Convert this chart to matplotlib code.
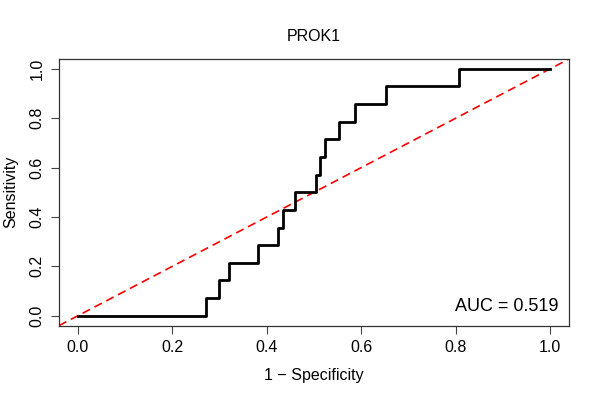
import matplotlib
matplotlib.use('Agg')
from matplotlib import pyplot as plt

# ROC curve vertices (step rises at each fpr value)
fpr = [0.0, 0.271, 0.299, 0.321, 0.381, 0.424, 0.434, 0.459, 0.505, 0.513,
       0.524, 0.554, 0.586, 0.652, 0.807, 1.0]
tpr = [0.0, 0.071, 0.143, 0.214, 0.286, 0.357, 0.429, 0.500, 0.571, 0.643,
       0.714, 0.786, 0.857, 0.929, 1.0, 1.0]
ticks = [0.0, 0.2, 0.4, 0.6, 0.8, 1.0]
tick_labels = ['0.0', '0.2', '0.4', '0.6', '0.8', '1.0']
title = 'PROK1'
auc_text = 'AUC = 0.519'


def main():
    plt.rcParams['font.family'] = ['Liberation Sans', 'DejaVu Sans']

    fig = plt.figure(figsize=(6, 4), dpi=100)
    ax = fig.add_axes([0.0983, 0.186, 0.8500, 0.6665])

    ax.axline((0, 0), (1, 1), color='#ff0000', lw=1.2, dashes=(5, 3))
    ax.step(fpr, tpr, where='post', color='black', lw=2.0)

    ax.set_xlim(-0.04, 1.04)
    ax.set_ylim(-0.04, 1.04)
    ax.set_xticks(ticks)
    ax.set_xticklabels(tick_labels)
    ax.set_yticks(ticks)
    ax.set_yticklabels(tick_labels, rotation=90, va='center')
    ax.tick_params(direction='out', length=5.5, width=0.8, color='#444444',
                   labelsize=11.5, pad=5)

    for spine in ax.spines.values():
        spine.set_color('#333333')
        spine.set_linewidth(0.9)

    ax.text(1.018, 0.02, auc_text, ha='right', va='baseline', fontsize=13)

    ax.set_title(title, fontsize=11.5, pad=13)
    ax.set_xlabel('1 \u2212 Specificity', fontsize=11.5, labelpad=9)
    ax.set_ylabel('Sensitivity', fontsize=11.5, labelpad=8)

    fig.savefig('out.png', dpi=100)


if __name__ == '__main__':
    main()
